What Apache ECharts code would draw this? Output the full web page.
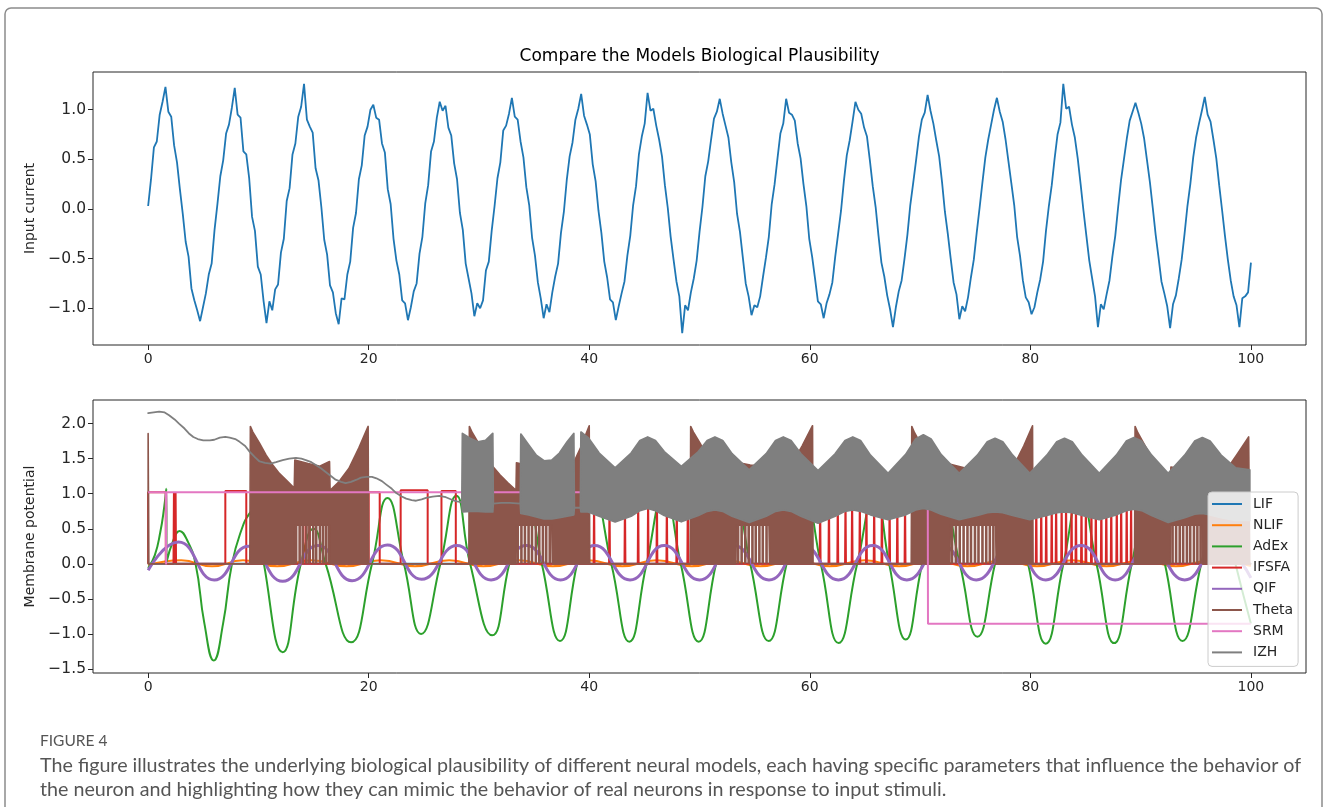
<!DOCTYPE html>
<html>
<head>
<meta charset="utf-8">
<title>Compare the Models Biological Plausibility</title>
<script src="https://cdn.jsdelivr.net/npm/echarts@6.0.0/dist/echarts.min.js"></script>
<style>
  html, body { margin: 0; padding: 0; background: #ffffff; }
  #container { width: 1328px; height: 807px; }
</style>
</head>
<body>
<div id="container"></div>
<script>
// ---- tick labels ----
var xTicks = [0, 20, 40, 60, 80, 100];
var inputTicks = [-1.0, -0.5, 0.0, 0.5, 1.0];
var membraneTicks = [-1.5, -1.0, -0.5, 0.0, 0.5, 1.0, 1.5, 2.0];
var legendNames = ['LIF', 'NLIF', 'AdEx', 'IFSFA', 'QIF', 'Theta', 'SRM', 'IZH'];

// ---- top panel: noisy input current, one sample every inputDt ----
var inputDt = 0.2618;
var inputCurrent = [
  0.03, 0.30, 0.62, 0.68, 0.95, 1.08, 1.23, 0.98, 0.93, 0.64, 0.47, 0.20, -0.05, -0.33, -0.48, -0.80, -0.92, -1.02, -1.13, -0.99, -0.85, -0.66, -0.55, -0.21,
  0.05, 0.33, 0.49, 0.76, 0.85, 1.02, 1.22, 0.95, 0.92, 0.58, 0.55, 0.31, -0.08, -0.22, -0.58, -0.66, -0.93, -1.15, -0.93, -1.02, -0.81, -0.76, -0.44, -0.30,
  0.08, 0.21, 0.55, 0.66, 0.93, 1.03, 1.26, 0.90, 0.83, 0.77, 0.41, 0.29, 0.02, -0.31, -0.46, -0.77, -0.84, -1.05, -1.16, -0.90, -0.91, -0.66, -0.53, -0.19,
  -0.04, 0.30, 0.44, 0.74, 0.83, 1.00, 1.05, 0.92, 0.90, 0.66, 0.57, 0.20, 0.05, -0.30, -0.52, -0.66, -0.92, -0.95, -1.12, -0.99, -0.83, -0.75, -0.45, -0.28,
  0.06, 0.24, 0.58, 0.68, 0.92, 1.08, 0.99, 1.04, 0.82, 0.74, 0.46, 0.30, -0.04, -0.21, -0.55, -0.70, -0.85, -1.08, -0.95, -1.00, -0.92, -0.62, -0.53, -0.22,
  0.03, 0.31, 0.47, 0.79, 0.84, 0.96, 1.12, 0.93, 0.90, 0.68, 0.52, 0.22, 0.04, -0.29, -0.47, -0.74, -0.90, -1.10, -0.96, -1.04, -0.84, -0.68, -0.55, -0.24,
  -0.03, 0.29, 0.53, 0.67, 0.90, 1.01, 1.16, 0.94, 0.85, 0.75, 0.45, 0.28, -0.02, -0.24, -0.53, -0.69, -0.91, -0.94, -1.12, -0.98, -0.85, -0.73, -0.47, -0.27,
  0.04, 0.23, 0.55, 0.73, 0.86, 1.17, 0.99, 1.01, 0.84, 0.70, 0.53, 0.24, 0.01, -0.28, -0.51, -0.73, -0.88, -1.25, -0.97, -1.02, -0.84, -0.70, -0.52, -0.23,
  0.02, 0.33, 0.48, 0.70, 0.91, 0.98, 1.11, 0.96, 0.84, 0.72, 0.47, 0.27, -0.05, -0.23, -0.49, -0.75, -0.88, -1.07, -0.97, -0.99, -0.88, -0.68, -0.49, -0.28,
  0.05, 0.25, 0.51, 0.76, 0.86, 1.11, 0.97, 0.95, 0.89, 0.66, 0.51, 0.25, 0.03, -0.30, -0.48, -0.70, -0.93, -0.96, -1.10, -0.95, -0.86, -0.74, -0.48, -0.25,
  -0.02, 0.28, 0.54, 0.69, 0.88, 1.08, 1.00, 0.96, 0.82, 0.73, 0.49, 0.23, 0.02, -0.27, -0.54, -0.68, -0.87, -1.01, -1.19, -0.99, -0.83, -0.72, -0.50, -0.26,
  0.04, 0.26, 0.49, 0.73, 0.90, 0.97, 1.15, 0.99, 0.86, 0.69, 0.53, 0.27, -0.03, -0.25, -0.50, -0.74, -0.86, -1.11, -0.98, -1.03, -0.89, -0.69, -0.51, -0.24,
  0.01, 0.27, 0.52, 0.70, 0.85, 1.00, 1.12, 0.98, 0.88, 0.70, 0.48, 0.26, 0.04, -0.28, -0.47, -0.72, -0.89, -0.94, -1.06, -0.99, -0.84, -0.71, -0.53, -0.22,
  0.03, 0.24, 0.51, 0.75, 0.87, 1.26, 1.01, 1.03, 0.85, 0.72, 0.51, 0.25, -0.02, -0.27, -0.52, -0.70, -0.88, -1.19, -0.96, -1.01, -0.86, -0.72, -0.48, -0.27,
  0.02, 0.29, 0.50, 0.71, 0.89, 0.98, 1.07, 0.97, 0.86, 0.71, 0.49, 0.27, 0.01, -0.26, -0.49, -0.73, -0.85, -0.98, -1.20, -0.96, -0.87, -0.70, -0.51, -0.25,
  0.03, 0.25, 0.52, 0.72, 0.86, 0.99, 1.13, 0.95, 0.88, 0.70, 0.51, 0.24, -0.01, -0.27, -0.51, -0.72, -0.88, -0.97, -1.19, -0.90, -0.88, -0.84, -0.54
];

// ---- bottom panel: membrane potentials ----
var lifT = [0, 100];
var lifV = [0, 0];

var nlifT = [0, 3.0, 5.8, 8.6, 11.7, 14.8, 18.0, 21.1, 24.2, 27.3, 30.4, 33.6, 36.7, 39.9, 43.0, 46.1, 49.3, 52.4, 55.5, 58.7, 61.8, 65.0, 68.1, 71.2, 74.3, 77.5, 80.6, 83.8, 86.9, 90.1, 93.2, 96.4, 100];
var nlifV = [-0.02, 0.05, -0.035, 0.05, -0.035, 0.05, -0.035, 0.05, -0.035, 0.05, -0.035, 0.05, -0.035, 0.05, -0.035, 0.05, -0.035, 0.05, -0.035, 0.05, -0.035, 0.05, -0.035, 0.05, -0.035, 0.05, -0.035, 0.05, -0.035, 0.05, -0.035, 0.05, -0.03];

var adexT = [0, 0.6, 1.1, 1.45, 1.65, 1.68, 2.2, 2.85, 3.5, 4.3, 5.1, 5.95, 6.8, 7.6, 8.5, 9.2, 9.8, 10.5, 12.2, 13.85, 15.0, 16.1, 18.4, 20.3, 21.7, 23.2, 24.75, 26.5, 27.95, 29.2, 31.2, 32.75, 34.3, 35.7, 37.35, 38.9, 40.4, 42.0, 43.64, 45.2, 46.8, 48.3, 49.92, 51.5, 53.1, 54.6, 56.27, 57.9, 59.5, 61.0, 62.61, 64.3, 65.9, 67.2, 68.7, 70.2, 71.9, 73.6, 75.2, 76.8, 78.3, 79.8, 81.4, 83.0, 84.5, 86.0, 87.6, 89.2, 90.7, 92.2, 93.8, 95.5, 97.1, 98.6, 100];
var adexV = [-0.06, 0.12, 0.45, 0.8, 1.07, 0.03, 0.3, 0.47, 0.35, 0.0, -0.85, -1.38, -0.85, 0.0, 0.5, 0.72, 0.8, 0.0, -1.26, 0.0, 0.5, 0.0, -1.12, 0.0, 0.94, 0.0, -1.0, 0.0, 0.97, 0.0, -1.02, 0.0, 0.95, 0.0, -1.1, 0.0, 0.97, 0.0, -1.11, 0.0, 1.0, 0.0, -1.11, 0.0, 1.0, 0.0, -1.1, 0.0, 1.0, 0.0, -1.13, 0.0, 1.0, 0.0, -1.08, 0.0, 1.0, 0.0, -1.04, 0.0, 1.0, 0.0, -1.14, 0.0, 1.0, 0.0, -1.13, 0.0, 1.0, 0.0, -1.1, 0.0, 1.0, 0.0, -0.85];

var ifsfaPulseOn = [0.0, 7.0, 20.0, 22.9, 26.6];
var ifsfaPulseOff = [1.6, 8.9, 21.0, 25.35, 27.9];
var ifsfaPulseTop = [1.02, 1.04, 1.02, 1.05, 1.04];
var ifsfaSpikeT = [2.3, 2.45, 14.25, 14.6,
  40.4, 41.8, 43.2, 44.4, 45.3, 46.1, 47.0, 47.9, 48.9,
  60.9, 61.7, 62.5, 63.2, 63.8, 64.5, 65.1, 65.8, 66.5, 67.2, 67.9, 68.6,
  80.5, 80.95, 81.4, 81.9, 82.3, 82.8, 83.2, 83.7, 84.1, 84.6, 85.0, 85.5, 85.9, 86.4, 86.85, 87.3, 87.8, 88.2, 88.7, 89.1];
var ifsfaSpikeTop = 1.02;

var qifT = [0, 2.75, 6.0, 9.1, 12.2, 15.4, 18.5, 21.7, 24.8, 28.0, 31.1, 34.3, 37.4, 40.5, 43.7, 46.8, 50.0, 53.1, 56.3, 59.4, 62.6, 65.7, 68.8, 72.0, 75.1, 78.3, 81.4, 84.6, 87.7, 90.8, 94.0, 97.1, 100];
var qifV = [-0.09, 0.31, -0.23, 0.25, -0.25, 0.26, -0.24, 0.27, -0.22, 0.26, -0.23, 0.26, -0.23, 0.26, -0.23, 0.26, -0.23, 0.26, -0.23, 0.26, -0.23, 0.26, -0.23, 0.26, -0.23, 0.26, -0.23, 0.26, -0.23, 0.26, -0.23, 0.26, -0.2];

// Theta bursts: upper envelope and the level below which single spikes are separated
var thetaT = [0, 0.06, 9.22, 9.27, 9.5, 10.1, 10.7, 11.3, 11.9, 12.5, 13.25, 13.3, 14.5, 15.6, 15.65, 16.45, 16.5, 17.3, 18.2, 19.1, 19.95, 20.0,
  29.08, 29.13, 29.4, 30.0, 30.6, 31.3, 31.9, 32.6, 33.36, 33.4, 34.6, 35.7, 36.6, 36.65, 37.5, 38.4, 39.2, 40.0, 40.05,
  49.15, 49.2, 49.45, 50.05, 50.65, 51.3, 51.9, 52.5, 53.3, 53.35, 54.6, 55.6, 56.3, 56.35, 57.2, 58.2, 59.3, 60.25, 60.3,
  69.2, 69.25, 69.5, 70.1, 70.7, 71.3, 72.0, 72.7, 72.75, 74.0, 75.2, 76.85, 76.9, 77.7, 78.6, 79.4, 80.2, 80.25,
  89.45, 89.5, 89.75, 90.35, 90.95, 91.6, 92.2, 92.7, 92.75, 93.5, 94.6, 95.55, 95.6, 96.6, 97.6, 98.7, 99.8, 99.9, 100];
var thetaHi = [1.86, 0, 0, 1.96, 1.88, 1.72, 1.55, 1.41, 1.29, 1.20, 1.08, 1.48, 1.43, 1.39, 1.40, 1.46, 1.05, 1.17, 1.36, 1.65, 1.96, 0,
  0, 1.96, 1.87, 1.71, 1.55, 1.38, 1.27, 1.16, 1.05, 1.44, 1.40, 1.38, 1.44, 1.05, 1.18, 1.38, 1.65, 1.97, 0,
  0, 1.96, 1.88, 1.72, 1.55, 1.40, 1.28, 1.19, 1.07, 1.45, 1.41, 1.39, 1.45, 1.05, 1.18, 1.38, 1.68, 1.97, 0,
  0, 1.96, 1.87, 1.70, 1.53, 1.38, 1.25, 1.12, 1.42, 1.37, 1.36, 1.42, 1.05, 1.20, 1.43, 1.68, 1.97, 0,
  0, 1.96, 1.87, 1.70, 1.53, 1.37, 1.26, 1.17, 1.38, 1.36, 1.33, 1.38, 1.02, 1.13, 1.30, 1.55, 1.81, 0, 0];
var thetaLo = [0, 0, 0, 0, 0, 0, 0, 0, 0, 0, 0, 0.55, 0.55, 0.55, 0.55, 0.55, 0, 0, 0, 0, 0, 0,
  0, 0, 0, 0, 0, 0, 0, 0, 0, 0.55, 0.55, 0.55, 0.55, 0, 0, 0, 0, 0, 0,
  0, 0, 0, 0, 0, 0, 0, 0, 0, 0.55, 0.55, 0.55, 0.55, 0, 0, 0, 0, 0, 0,
  0, 0, 0, 0, 0, 0, 0, 0, 0.55, 0.55, 0.55, 0.55, 0, 0, 0, 0, 0, 0,
  0, 0, 0, 0, 0, 0, 0, 0, 0.55, 0.55, 0.55, 0.55, 0, 0, 0, 0, 0, 0, 0];
var thetaStripeT = [13.42, 13.74, 14.02, 14.36, 14.63, 14.97, 15.24, 15.58, 15.86, 16.13, 16.38,
  33.52, 33.85, 34.17, 34.5, 34.81, 35.16, 35.47, 35.8, 36.1, 36.42,
  53.5, 53.82, 54.15, 54.46, 54.8, 55.1, 55.43, 55.74, 56.08,
  72.9, 73.25, 73.6, 73.95, 74.3, 74.62, 74.98, 75.3, 75.66, 76.0, 76.33, 76.65,
  92.9, 93.22, 93.55, 93.86, 94.2, 94.5, 94.84, 95.15, 95.44];
var thetaStripeTop = 0.56;

var srmT = [0, 1.6, 1.63, 1.66, 70.7, 70.72, 100];
var srmV = [1.02, 1.02, -0.01, 1.02, 1.02, -0.855, -0.855];

// IZH: slow single trace first, then dense bursting drawn as a lower/upper band
var izhLineT = [0, 0.5, 1.0, 1.5, 1.9, 2.4, 2.8, 3.3, 3.7, 4.1, 4.5, 5.0, 5.6, 6.0, 6.5, 7.0, 7.4, 7.9, 8.3, 8.8, 9.2, 9.7, 10.1, 10.6, 11.1, 11.6, 12.2, 12.8, 13.4, 13.9, 14.3, 14.8, 15.2, 15.7, 16.1, 16.6, 17.0, 17.5, 17.9, 18.4, 18.9, 19.3, 19.8, 20.3, 20.7, 21.2, 21.6, 22.1, 22.5, 23.0, 23.4, 23.9, 24.3, 24.8, 25.2, 25.8, 26.4, 27.0, 27.6, 28.0, 28.4];
var izhLineV = [2.15, 2.16, 2.17, 2.16, 2.12, 2.06, 2.0, 1.93, 1.86, 1.81, 1.78, 1.76, 1.76, 1.77, 1.80, 1.81, 1.80, 1.78, 1.74, 1.68, 1.60, 1.52, 1.46, 1.44, 1.43, 1.45, 1.48, 1.50, 1.51, 1.50, 1.48, 1.45, 1.41, 1.36, 1.31, 1.25, 1.20, 1.17, 1.15, 1.17, 1.20, 1.23, 1.24, 1.24, 1.22, 1.18, 1.13, 1.07, 1.01, 0.96, 0.93, 0.91, 0.90, 0.92, 0.94, 0.96, 0.97, 0.95, 0.91, 0.89, 0.88];
var izhBandT = [28.45, 28.5, 29.2, 29.9, 30.6, 31.25, 31.3, 32.0, 32.8, 33.75, 33.8, 34.5, 35.2, 35.9, 36.6, 37.3, 38.0, 38.6, 38.65, 39.2, 39.25, 39.9, 40.9, 42.35, 43.8, 44.6, 45.3, 46.0, 46.8, 48.35, 49.9, 50.7, 51.4, 52.1, 52.95, 54.5, 56.05, 56.9, 57.6, 58.3, 59.2, 60.75, 62.3, 63.2, 63.9, 64.6, 65.5, 67.1, 68.7, 69.6, 70.3, 71.0, 71.9, 73.55, 75.2, 76.1, 76.8, 77.5, 78.4, 79.95, 81.5, 82.4, 83.1, 83.8, 84.7, 86.25, 87.8, 88.7, 89.4, 90.1, 91.0, 92.5, 94.0, 94.9, 95.6, 96.3, 97.3, 98.6, 99.9];
var izhBandLo = [0.88, 0.74, 0.75, 0.75, 0.74, 0.74, 0.86, 0.87, 0.87, 0.86, 0.72, 0.70, 0.67, 0.64, 0.64, 0.66, 0.68, 0.70, 0.80, 0.80, 0.74, 0.74, 0.68, 0.60, 0.68, 0.76, 0.79, 0.76, 0.69, 0.60, 0.69, 0.75, 0.77, 0.75, 0.68, 0.59, 0.68, 0.75, 0.77, 0.75, 0.68, 0.58, 0.68, 0.75, 0.77, 0.75, 0.70, 0.63, 0.70, 0.77, 0.79, 0.77, 0.71, 0.63, 0.69, 0.73, 0.74, 0.73, 0.69, 0.63, 0.69, 0.73, 0.74, 0.73, 0.69, 0.63, 0.70, 0.76, 0.78, 0.76, 0.69, 0.59, 0.66, 0.71, 0.72, 0.70, 0.66, 0.62, 0.62];
var izhBandHi = [0.88, 1.86, 1.79, 1.74, 1.76, 1.86, 0.86, 0.87, 0.87, 0.86, 1.85, 1.70, 1.55, 1.47, 1.48, 1.58, 1.74, 1.86, 0.80, 0.80, 1.88, 1.80, 1.58, 1.37, 1.58, 1.76, 1.81, 1.76, 1.60, 1.39, 1.60, 1.76, 1.81, 1.76, 1.57, 1.34, 1.57, 1.76, 1.81, 1.76, 1.57, 1.33, 1.57, 1.76, 1.81, 1.76, 1.55, 1.29, 1.56, 1.78, 1.84, 1.78, 1.56, 1.29, 1.55, 1.74, 1.79, 1.74, 1.55, 1.29, 1.55, 1.74, 1.79, 1.74, 1.55, 1.29, 1.55, 1.75, 1.80, 1.75, 1.55, 1.29, 1.55, 1.75, 1.80, 1.75, 1.55, 1.37, 1.34];

// ---- build series data ----
function zip(xs, ys) {
  return xs.map(function (x, i) { return [x, ys[i]]; });
}
function zip3(xs, los, his) {
  return xs.map(function (x, i) { return [x, los[i], his[i]]; });
}

var inputData = inputCurrent.map(function (v, i) { return [+(i * inputDt).toFixed(4), v]; });

var ifsfaEvents = [];
ifsfaPulseOn.forEach(function (t0, i) {
  var t1 = ifsfaPulseOff[i], h = ifsfaPulseTop[i];
  ifsfaEvents.push({ t: t0, pts: [[t0, 0], [t0, h], [t1, h], [t1, 0]] });
});
ifsfaSpikeT.forEach(function (t) {
  ifsfaEvents.push({ t: t, pts: [[t, 0], [t + 0.04, ifsfaSpikeTop], [t + 0.08, 0]] });
});
ifsfaEvents.sort(function (a, b) { return a.t - b.t; });
var ifsfaData = [];
ifsfaEvents.forEach(function (e) { ifsfaData = ifsfaData.concat(e.pts); });
ifsfaData.push([100, 0]);

var thetaRows = zip3(thetaT, thetaLo, thetaHi);
var thetaStripeRows = thetaStripeT.map(function (t) { return [t, 0, thetaStripeTop]; });

var izhRows = zip3(izhLineT.concat(izhBandT), izhLineV.concat(izhBandLo), izhLineV.concat(izhBandHi));

// ---- chart ----
var chartDom = document.getElementById('container');
var myChart = echarts.init(chartDom);
var option;

var fontFamily = 'DejaVu Sans';
var ink = '#262626';

function fmtY(v) {
  return (v < 0 ? '\u2212' : '') + Math.abs(v).toFixed(1);
}

function xAxisFor(g) {
  return {
    type: 'value', gridIndex: g, min: -5, max: 105,
    axisLine: { show: false, onZero: false },
    splitLine: { show: false },
    axisTick: { show: true, customValues: xTicks, length: 5, lineStyle: { color: ink, width: 1 } },
    axisLabel: { customValues: xTicks, margin: 7, fontFamily: fontFamily, fontSize: 14, color: ink,
      formatter: function (v) { return String(v); } }
  };
}

function yAxisFor(g, min, max, ticks, name) {
  return {
    type: 'value', gridIndex: g, min: min, max: max,
    name: name, nameLocation: 'middle', nameGap: 46, nameRotate: 90,
    nameTextStyle: { fontFamily: fontFamily, fontSize: 14, color: ink },
    axisLine: { show: false, onZero: false },
    splitLine: { show: false },
    axisTick: { show: true, customValues: ticks, length: 5, lineStyle: { color: ink, width: 1 } },
    axisLabel: { customValues: ticks, margin: 7, fontFamily: fontFamily, fontSize: 15.5, color: ink, formatter: fmtY }
  };
}

// drawing order follows the original plot: later models sit on top
function line(name, data, color, width, z, extra) {
  var s = {
    name: name, type: 'line', xAxisIndex: 1, yAxisIndex: 1, z: z,
    data: data, symbol: 'none', showSymbol: false, silent: true,
    itemStyle: { color: color },
    lineStyle: { color: color, width: width },
    emphasis: { disabled: true }
  };
  for (var k in extra) { s[k] = extra[k]; }
  return s;
}

// a filled band between a lower and an upper trace, drawn through the axes' scales
function band(name, rows, color, width, z) {
  return {
    name: name, type: 'custom', xAxisIndex: 1, yAxisIndex: 1, z: z,
    data: rows, encode: { x: 0, y: [1, 2] },
    silent: true, clip: true,
    itemStyle: { color: color },
    renderItem: function (params, api) {
      if (params.dataIndex !== 0) return null;
      var pts = [];
      var i;
      for (i = 0; i < rows.length; i++) pts.push(api.coord([rows[i][0], rows[i][2]]));
      for (i = rows.length - 1; i >= 0; i--) pts.push(api.coord([rows[i][0], rows[i][1]]));
      return {
        type: 'polygon',
        shape: { points: pts },
        style: { fill: color, stroke: color, lineWidth: width, lineJoin: 'round' }
      };
    }
  };
}

// separate spikes in the slower part of each Theta burst, one bar per spike time
function spikes(name, rows, color, pxWidth, z) {
  return {
    name: name, type: 'custom', xAxisIndex: 1, yAxisIndex: 1, z: z,
    data: rows, encode: { x: 0, y: [1, 2] },
    silent: true, clip: true,
    itemStyle: { color: color },
    renderItem: function (params, api) {
      var lo = api.coord([api.value(0), api.value(1)]);
      var hi = api.coord([api.value(0), api.value(2)]);
      return {
        type: 'rect',
        shape: { x: lo[0] - pxWidth / 2, y: hi[1], width: pxWidth, height: lo[1] - hi[1] },
        style: { fill: color }
      };
    }
  };
}

option = {
  animation: false,
  backgroundColor: '#ffffff',
  grid: [
    { left: 93, top: 72, width: 1213, height: 273, show: true, borderColor: ink, borderWidth: 1 },
    { left: 93, top: 400, width: 1213, height: 273, show: true, borderColor: ink, borderWidth: 1 }
  ],
  xAxis: [xAxisFor(0), xAxisFor(1)],
  yAxis: [
    yAxisFor(0, -1.37, 1.38, inputTicks, 'Input current'),
    yAxisFor(1, -1.557, 2.337, membraneTicks, 'Membrane potential')
  ],
  legend: {
    data: legendNames,
    orient: 'vertical', left: 1208, top: 492, z: 20,
    padding: [5, 5, 7, 4], itemGap: 7.2, itemWidth: 36, itemHeight: 14,
    icon: 'path://M0,0L0,0M36,14L36,14M0,6L30,6L30,8L0,8Z',
    itemStyle: { borderWidth: 0 },
    textStyle: { fontFamily: fontFamily, fontSize: 14, color: ink },
    backgroundColor: 'rgba(255,255,255,0.8)',
    borderColor: '#cccccc', borderWidth: 1, borderRadius: 4,
    selectedMode: false
  },
  series: [
    {
      name: 'Input current', type: 'line', xAxisIndex: 0, yAxisIndex: 0,
      data: inputData, symbol: 'none', showSymbol: false, silent: true,
      lineStyle: { color: '#1f77b4', width: 1.8 }, itemStyle: { color: '#1f77b4' }
    },
    line('LIF', zip(lifT, lifV), '#1f77b4', 2, 2, {}),
    line('NLIF', zip(nlifT, nlifV), '#ff7f0e', 2, 2, { smooth: true }),
    line('AdEx', zip(adexT, adexV), '#2ca02c', 2, 2, { smooth: true }),
    line('IFSFA', ifsfaData, '#d62728', 2, 2, {}),
    line('QIF', zip(qifT, qifV), '#9467bd', 3, 2, { smooth: true }),
    band('Theta', thetaRows, '#8c564b', 1.6, 3),
    spikes('Theta', thetaStripeRows, '#8c564b', 2.6, 3),
    line('SRM', zip(srmT, srmV), '#e377c2', 2, 4, {}),
    band('IZH', izhRows, '#7f7f7f', 1.8, 5)
  ],
  graphic: [
    { type: 'rect', silent: true, shape: { x: 5, y: 8, width: 1317, height: 860, r: 6 },
      style: { fill: 'none', stroke: '#8c8c8c', lineWidth: 1.5 } },
    { type: 'text', silent: true, x: 699.5, y: 57,
      style: { text: 'Compare the Models Biological Plausibility', font: '17px "DejaVu Sans"', fill: '#000000',
        textAlign: 'center', align: 'center', textVerticalAlign: 'middle', verticalAlign: 'middle' } },
    { type: 'text', silent: true, x: 40, y: 741,
      style: { text: 'FIGURE 4', font: '15.5px Lato', fill: '#555555',
        textVerticalAlign: 'middle', verticalAlign: 'middle' } },
    { type: 'text', silent: true, x: 40, y: 766,
      style: { text: 'The figure illustrates the underlying biological plausibility of different neural models, each having specific parameters that influence the behavior of',
        font: '19.7px Lato', fill: '#555555', textVerticalAlign: 'middle', verticalAlign: 'middle' } },
    { type: 'text', silent: true, x: 40, y: 790,
      style: { text: 'the neuron and highlighting how they can mimic the behavior of real neurons in response to input stimuli.',
        font: '19.7px Lato', fill: '#555555', textVerticalAlign: 'middle', verticalAlign: 'middle' } }
  ]
};

option && myChart.setOption(option);
</script>
</body>
</html>
